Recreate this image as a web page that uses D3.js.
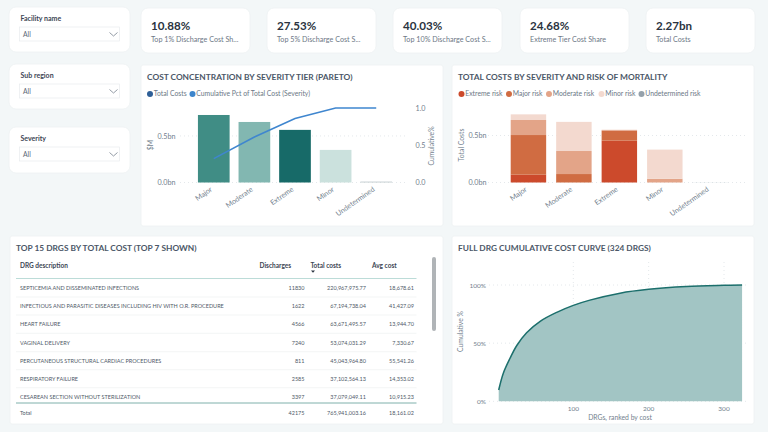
<!DOCTYPE html>
<html lang="en">
<head>
<meta charset="UTF-8">
<title>Cost concentration</title>
<script src="https://cdnjs.cloudflare.com/ajax/libs/d3/7.8.5/d3.min.js"></script>
<style>
    html, body { margin: 0; padding: 0; background: #f3f7f8; overflow: hidden; }
    svg { display: block; font-family: Lato, "Open Sans", sans-serif; }
    .title { font-size: 8.35px; font-weight: 700; fill: #4b5767; }
    .tick-label { font-size: 7.2px; fill: #737f8e; }
    .legend-label { font-size: 6.8px; fill: #6b7785; }
    .axis-title { font-size: 6.8px; fill: #737f8e; }
    .grid { stroke: #e4e8eb; stroke-width: 1; stroke-dasharray: 1 3; }
</style>
</head>
<body>
<div id="chart"></div>
<script>
    // filters and kpi tiles
    var filters = ["Facility name", "Sub region", "Severity"];
    var kpiValues = ["10.88%", "27.53%", "40.03%", "24.68%", "2.27bn"];
    var kpiLabels = ["Top 1% Discharge Cost Sh...", "Top 5% Discharge Cost S...", "Top 10% Discharge Cost S...", "Extreme Tier Cost Share", "Total Costs"];

    // pareto chart
    var severities = ["Major", "Moderate", "Extreme", "Minor", "Undetermined"];
    var totalCosts = [0.725, 0.65, 0.565, 0.35, 0.01];
    var cumulativePct = [0.32, 0.61, 0.86, 1.0, 1.0];
    var severityColors = ["#408d85", "#82b7b1", "#176a68", "#cbe1dd", "#c3cdd0"];

    // stacked chart, values in bn per severity
    var riskLevels = ["Extreme risk", "Major risk", "Moderate risk", "Minor risk", "Undetermined risk"];
    var riskColors = ["#cc4a2c", "#d06c42", "#e3a488", "#f3d9cf", "#95a1ab"];
    var extremeRisk = [0.083, 0, 0.445, 0, 0];
    var majorRisk = [0.422, 0.09, 0.105, 0, 0];
    var moderateRisk = [0.16, 0.245, 0.01, 0.04, 0];
    var minorRisk = [0.06, 0.31, 0, 0.31, 0];
    var undeterminedRisk = [0, 0, 0, 0, 0.001];

    // drg table
    var tableHeaders = ["DRG description", "Discharges", "Total costs", "Avg cost"];
    var drgNames = [
        "SEPTICEMIA AND DISSEMINATED INFECTIONS",
        "INFECTIOUS AND PARASITIC DISEASES INCLUDING HIV WITH O.R. PROCEDURE",
        "HEART FAILURE",
        "VAGINAL DELIVERY",
        "PERCUTANEOUS STRUCTURAL CARDIAC PROCEDURES",
        "RESPIRATORY FAILURE",
        "CESAREAN SECTION WITHOUT STERILIZATION"
    ];
    var drgDischarges = ["11830", "1622", "4566", "7240", "811", "2585", "3397"];
    var drgCosts = ["220,967,975.77", "67,194,738.04", "63,671,495.57", "53,074,031.29", "45,043,964.80", "37,102,564.13", "37,079,049.11"];
    var drgAvg = ["18,678.61", "41,427.09", "13,944.70", "7,330.67", "55,541.26", "14,353.02", "10,915.23"];
    var tableTotal = ["Total", "42175", "765,941,003.16", "18,161.02"];

    // cumulative curve
    var curveRank = [1, 7, 16, 25, 38, 56, 78, 100, 122, 162, 200, 250, 300, 324];
    var curvePct = [9.7, 24, 37, 48, 59, 68.8, 76.5, 82.5, 87, 93, 96.3, 98.7, 99.7, 100];

    var svg = d3.select("#chart").append("svg").attr("width", 768).attr("height", 432);

    function card(x, y, w, h, r) {
        svg.append("rect").attr("x", x).attr("y", y).attr("width", w).attr("height", h)
            .attr("rx", r).attr("fill", "#fff").attr("stroke", "#edf1f3").attr("stroke-width", 0.8);
    }

    function text(x, y, s, cls, anchor) {
        return svg.append("text").attr("x", x).attr("y", y).attr("class", cls)
            .attr("text-anchor", anchor || "start").text(s);
    }

    // filter cards
    var filterTop = [7, 64, 127];
    filters.forEach(function(f, i) {
        var y = filterTop[i];
        card(9, y, 121, i == 2 ? 46 : 45, 7);
        svg.append("text").attr("x", 20.5).attr("y", y + 13.5).attr("font-size", 7).attr("font-weight", 700)
            .attr("fill", "#3d4654").text(f);
        svg.append("rect").attr("x", 19.5).attr("y", y + 20).attr("width", 100).attr("height", 14)
            .attr("fill", "#fff").attr("stroke", "#e8ecee").attr("stroke-width", 0.7);
        svg.append("text").attr("x", 23).attr("y", y + 29.8).attr("font-size", 6.8).attr("fill", "#5d6876").text("All");
        svg.append("path").attr("d", "M" + 109.5 + "," + (y + 25.5) + "l4,3.5l4,-3.5")
            .attr("fill", "none").attr("stroke", "#78838f").attr("stroke-width", 0.8);
    });

    // kpi tiles
    var kpiLeft = [141, 267, 393, 520, 646];
    kpiValues.forEach(function(v, i) {
        card(kpiLeft[i], 8, 109, 45, 7);
        svg.append("text").attr("x", kpiLeft[i] + 10).attr("y", 30).attr("font-size", 11.6).attr("font-weight", 700)
            .attr("fill", "#2a3340").text(v);
        svg.append("text").attr("x", kpiLeft[i] + 10).attr("y", 42).attr("font-size", 7.2).attr("fill", "#6d7886").text(kpiLabels[i]);
    });

    // panels
    card(141, 65, 302, 161, 2);
    card(452, 65, 302, 161, 2);
    card(10, 236, 433, 188, 2);
    card(452, 236, 302, 188, 2);

    text(147, 80, "COST CONCENTRATION BY SEVERITY TIER (PARETO)", "title");
    text(458, 80, "TOTAL COSTS BY SEVERITY AND RISK OF MORTALITY", "title");
    text(16, 251, "TOP 15 DRGS BY TOTAL COST (TOP 7 SHOWN)", "title");
    text(458, 251, "FULL DRG CUMULATIVE COST CURVE (324 DRGS)", "title");

    function legend(items, colors, xs) {
        items.forEach(function(s, i) {
            svg.append("circle").attr("cx", xs[i]).attr("cy", 94).attr("r", 3).attr("fill", colors[i]);
            svg.append("text").attr("x", xs[i] + 3.8).attr("y", 96.4).attr("class", "legend-label").text(s);
        });
    }

    function categoryLabels(x, y0) {
        severities.forEach(function(s) {
            svg.append("text").attr("class", "tick-label").attr("text-anchor", "end")
                .attr("transform", "translate(" + (x(s) + x.bandwidth() / 2 - 1) + "," + (y0 + 8) + ") rotate(-35)")
                .text(s);
        });
    }

    // pareto
    legend(["Total Costs", "Cumulative Pct of Total Cost (Severity)"], ["#2f5f97", "#3d85cc"], [150, 192.5]);

    var paretoX = d3.scaleBand().domain(severities).range([189, 401]).padding(0.22);
    var paretoY = d3.scaleLinear().domain([0, 0.8]).range([182.5, 108]);
    var paretoY2 = d3.scaleLinear().domain([0, 1]).range([182.5, 108]);

    [0, 0.5].forEach(function(t) {
        svg.append("line").attr("class", "grid").attr("x1", 180).attr("x2", 405)
            .attr("y1", paretoY(t)).attr("y2", paretoY(t));
        text(175.5, paretoY(t) + 2.6, d3.format(".1f")(t) + "bn", "tick-label", "end");
    });
    [0, 0.5, 1].forEach(function(t) {
        text(415.5, paretoY2(t) + 2.6, d3.format(".1f")(t), "tick-label");
    });

    svg.append("g").selectAll("rect").data(totalCosts).enter().append("rect")
        .attr("x", function(d, i) { return paretoX(severities[i]); })
        .attr("y", function(d) { return paretoY(d); })
        .attr("width", paretoX.bandwidth())
        .attr("height", function(d) { return paretoY(0) - paretoY(d); })
        .attr("fill", function(d, i) { return severityColors[i]; });

    svg.append("path").datum(cumulativePct)
        .attr("fill", "none").attr("stroke", "#3f86cf").attr("stroke-width", 1.6)
        .attr("d", d3.line()
            .x(function(d, i) { return paretoX(severities[i]) + paretoX.bandwidth() / 2; })
            .y(function(d) { return paretoY2(d); }));

    categoryLabels(paretoX, 182.5);
    svg.append("text").attr("class", "axis-title").attr("text-anchor", "middle")
        .attr("transform", "translate(153,145) rotate(-90)").text("$M");
    svg.append("text").attr("class", "axis-title").attr("text-anchor", "middle")
        .attr("transform", "translate(433.5,146) rotate(-90)").text("Cumulative%");

    // stacked
    legend(riskLevels, riskColors, [461.5, 509, 549, 601.5, 641.5]);

    var stackX = d3.scaleBand().domain(severities).range([500.7, 738]).padding(0.22);
    var stackY = d3.scaleLinear().domain([0, 0.8]).range([182.5, 107.3]);

    [0, 0.5].forEach(function(t) {
        svg.append("line").attr("class", "grid").attr("x1", 488).attr("x2", 748)
            .attr("y1", stackY(t)).attr("y2", stackY(t));
        text(486.5, stackY(t) + 2.6, d3.format(".1f")(t) + "bn", "tick-label", "end");
    });

    var riskSeries = [extremeRisk, majorRisk, moderateRisk, minorRisk, undeterminedRisk];
    severities.forEach(function(s, i) {
        var base = 0;
        riskSeries.forEach(function(vals, k) {
            if (vals[i] > 0) {
                svg.append("rect").attr("x", stackX(s)).attr("y", stackY(base + vals[i]))
                    .attr("width", stackX.bandwidth())
                    .attr("height", stackY(base) - stackY(base + vals[i]))
                    .attr("fill", riskColors[k]);
            }
            base += vals[i];
        });
    });

    categoryLabels(stackX, 182.5);
    svg.append("text").attr("class", "axis-title").attr("text-anchor", "middle")
        .attr("transform", "translate(463.5,145) rotate(-90)").text("Total Costs");

    // table
    var colRight = [0, 304.5, 366, 414];
    var rowY = [288, 306, 324, 342.5, 361, 378.5, 397];

    function cell(x, y, s, anchor, fill) {
        svg.append("text").attr("x", x).attr("y", y + 2.1).attr("font-size", 5.5).attr("fill", fill || "#4f5a68")
            .attr("text-anchor", anchor).text(s);
    }

    var headerX = [20, 259.5, 310.5, 372];
    tableHeaders.forEach(function(h, i) {
        svg.append("text").attr("x", headerX[i]).attr("y", 267.5).attr("font-size", 6.5).attr("font-weight", 700)
            .attr("fill", "#3d4654").text(h);
    });
    svg.append("path").attr("d", "M311,270.5h4l-2,2.2z").attr("fill", "#2a3340");

    svg.append("line").attr("x1", 16).attr("x2", 416.5).attr("y1", 278.5).attr("y2", 278.5)
        .attr("stroke", "#bcdcd8").attr("stroke-width", 1);

    drgNames.forEach(function(name, i) {
        cell(20, rowY[i], name, "start");
        cell(colRight[1], rowY[i], drgDischarges[i], "end");
        cell(colRight[2], rowY[i], drgCosts[i], "end");
        cell(colRight[3], rowY[i], drgAvg[i], "end");
        if (i < drgNames.length - 1) {
            svg.append("line").attr("x1", 16).attr("x2", 416.5)
                .attr("y1", (rowY[i] + rowY[i + 1]) / 2).attr("y2", (rowY[i] + rowY[i + 1]) / 2)
                .attr("stroke", "#f0f2f3").attr("stroke-width", 0.8);
        }
    });

    svg.append("line").attr("x1", 16).attr("x2", 416.5).attr("y1", 403).attr("y2", 403)
        .attr("stroke", "#7fb0ab").attr("stroke-width", 1);
    cell(20, 412.5, tableTotal[0], "start");
    cell(colRight[1], 412.5, tableTotal[1], "end");
    cell(colRight[2], 412.5, tableTotal[2], "end");
    cell(colRight[3], 412.5, tableTotal[3], "end");

    svg.append("rect").attr("x", 432).attr("y", 257).attr("width", 4).attr("height", 74)
        .attr("rx", 2).attr("fill", "#b0b4b7");

    // curve
    var curveX = d3.scaleLinear().domain([100, 300]).range([573.3, 724]);
    var curveY = d3.scaleLinear().domain([0, 100]).range([401.3, 285]);

    [100, 200, 300].forEach(function(t) {
        svg.append("line").attr("class", "grid").attr("x1", curveX(t)).attr("x2", curveX(t)).attr("y1", 262).attr("y2", 401.3);
        text(curveX(t), 410.5, t, "tick-label", "middle").style("font-size", "6.5px");
    });
    [0, 50, 100].forEach(function(t) {
        svg.append("line").attr("class", "grid").attr("x1", 489).attr("x2", 748).attr("y1", curveY(t)).attr("y2", curveY(t));
        text(486, curveY(t) + 2.5, t + "%", "tick-label", "end").style("font-size", "6.5px");
    });

    var curveIdx = d3.range(curveRank.length);
    svg.append("path").datum(curveIdx).attr("fill", "#a2c5c4")
        .attr("d", d3.area().curve(d3.curveCatmullRom.alpha(0.5))
            .x(function(i) { return curveX(curveRank[i]); })
            .y0(curveY(0))
            .y1(function(i) { return curveY(curvePct[i]); }));
    svg.append("path").datum(curveIdx).attr("fill", "none").attr("stroke", "#1c6f6c").attr("stroke-width", 1.5)
        .attr("d", d3.line().curve(d3.curveCatmullRom.alpha(0.5))
            .x(function(i) { return curveX(curveRank[i]); })
            .y(function(i) { return curveY(curvePct[i]); }));

    text(620, 420, "DRGs, ranked by cost", "axis-title", "middle");
    svg.append("text").attr("class", "axis-title").attr("text-anchor", "middle")
        .attr("transform", "translate(463,331.5) rotate(-90)").text("Cumulative %");
</script>
</body>
</html>
